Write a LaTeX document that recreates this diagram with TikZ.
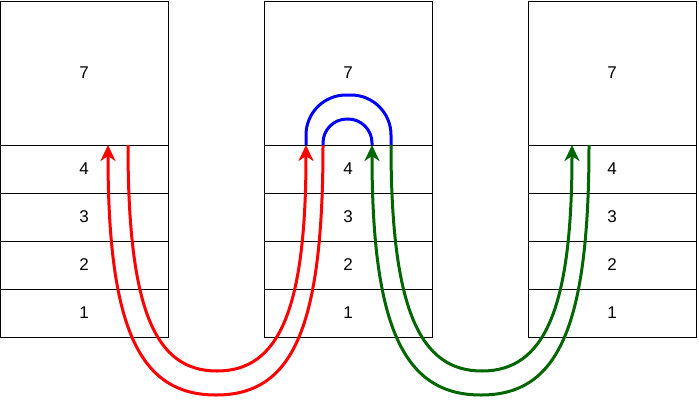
\documentclass[tikz,border=0pt]{standalone}
\usepackage{fontspec}
\setmainfont{Liberation Sans}
\usetikzlibrary{arrows.meta,positioning}
\definecolor{wired}{HTML}{FF0000}
\definecolor{wiblue}{HTML}{0000FF}
\definecolor{wigreen}{HTML}{006600}

\begin{document}
\begin{tikzpicture}[
  x=1pt,y=-1pt,
  font=\fontsize{17}{20}\selectfont,
  headbox/.style={draw,line width=1pt,minimum width=168pt,minimum height=144pt,
                  inner sep=0pt,outer sep=0pt},
  cell/.style={draw,line width=1pt,minimum width=168pt,minimum height=48pt,
               inner sep=0pt,outer sep=0pt},
  redwire/.style={draw=wired,line width=3pt},
  bluewire/.style={draw=wiblue,line width=3pt},
  greenwire/.style={draw=wigreen,line width=3pt},
  tip/.style={-{Stealth[length=16pt,width=15pt,inset=5pt]}}
]
\useasboundingbox (0,0) rectangle (699,400);

% left stack
\node[headbox] (lt) at (84,73) {7};
\node[cell,below=0pt of lt] (l4) {4};
\node[cell,below=0pt of l4] (l3) {3};
\node[cell,below=0pt of l3] (l2) {2};
\node[cell,below=0pt of l2] (l1) {1};

% middle stack
\node[headbox,right=96pt of lt] (mt) {7};
\node[cell,below=0pt of mt] (m4) {4};
\node[cell,below=0pt of m4] (m3) {3};
\node[cell,below=0pt of m3] (m2) {2};
\node[cell,below=0pt of m2] (m1) {1};

% right stack
\node[headbox,right=96pt of mt] (rt) {7};
\node[cell,below=0pt of rt] (r4) {4};
\node[cell,below=0pt of r4] (r3) {3};
\node[cell,below=0pt of r3] (r2) {2};
\node[cell,below=0pt of r2] (r1) {1};

% wire ends on the top of the 4 cells
\coordinate[xshift=24pt] (la) at (l4.north);
\coordinate[xshift=44pt] (lb) at (l4.north);
\coordinate[xshift=-42pt] (ma) at (m4.north);
\coordinate[xshift=-25pt] (mb) at (m4.north);
\coordinate[xshift=24pt] (mc) at (m4.north);
\coordinate[xshift=43pt] (md) at (m4.north);
\coordinate[xshift=-40pt] (ra) at (r4.north);
\coordinate[xshift=-23pt] (rb) at (r4.north);
\coordinate (redlow) at (216,395);
\coordinate (redhigh) at (217,371);
\coordinate (greenlow) at (481,395);
\coordinate (greenhigh) at (482,371);

\draw[redwire,tip] (mb) .. controls +(0,185) and +(76,0) .. (redlow)
  .. controls +(-76,0) and +(0,185) .. (la);
\draw[redwire,tip] (lb) .. controls +(0,165) and +(-62,0) .. (redhigh)
  .. controls +(62,0) and +(0,165) .. (ma);
\draw[bluewire,rounded corners=40pt] (ma) -- ++(0,-50) -| (md);
\draw[bluewire,rounded corners=24pt] (mb) -- ++(0,-26) -| (mc);
\draw[greenwire,tip] (rb) .. controls +(0,185) and +(76,0) .. (greenlow)
  .. controls +(-76,0) and +(0,185) .. (mc);
\draw[greenwire,tip] (md) .. controls +(0,165) and +(-62,0) .. (greenhigh)
  .. controls +(62,0) and +(0,165) .. (ra);
\end{tikzpicture}
\end{document}
